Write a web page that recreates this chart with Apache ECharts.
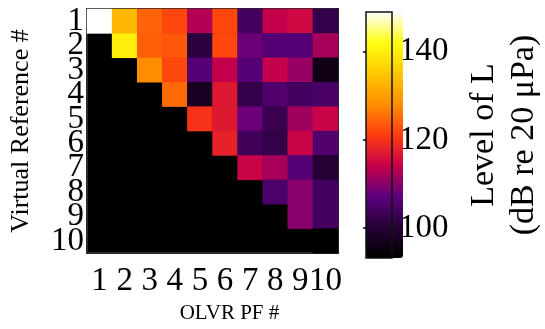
<!DOCTYPE html>
<html>
<head>
<meta charset="utf-8">
<script src="https://cdn.jsdelivr.net/npm/echarts@6/dist/echarts.min.js"></script>
<style>
html,body{margin:0;padding:0;background:#fff;}
#chart{width:545px;height:329px;}
</style>
</head>
<body>
<div id="chart"></div>
<script>
// Categories (tick labels)
var pfLabels = ['1','2','3','4','5','6','7','8','9','10'];
var refLabels = ['1','2','3','4','5','6','7','8','9','10'];
// Level of L (dB re 20 µPa), one array per Virtual Reference row; null = not shown (black)
var row1  = [149, 133, 124.5, 122, 113, 122, 104, 114, 115, 102];
var row2  = [null, 140, 124, 123.5, 101, 122, 108, 106, 106, 112];
var row3  = [null, null, 128, 122, 106, 114, 106, 114, 111, 96];
var row4  = [null, null, null, 125, 97.5, 117, 102, 105.5, 104, 104.5];
var row5  = [null, null, null, null, 120, 117, 108, 102.5, 111.5, 114.5];
var row6  = [null, null, null, null, null, 118, 103.5, 102, 114.5, 105.5];
var row7  = [null, null, null, null, null, null, 114.5, 112, 106, 100];
var row8  = [null, null, null, null, null, null, null, 105, 110, 104];
var row9  = [null, null, null, null, null, null, null, null, 110, 104];
var row10 = [null, null, null, null, null, null, null, null, null, 93.2];
var rows = [row1,row2,row3,row4,row5,row6,row7,row8,row9,row10];
// Colour scale
var cMin = 93.2, cMax = 149;
var cTicks = [100, 120, 140];
var cColors = ['#000000','#250035','#5e0080','#c6004a','#ff3c10','#ff8e00','#ffc800','#ffff10','#ffffff'];

var data = [];
rows.forEach(function(r, i){
  r.forEach(function(v, j){
    data.push([j, i, v == null ? '-' : v]);
  });
});

var serif = 'Liberation Serif, Times New Roman, serif';
var chart = echarts.init(document.getElementById('chart'));
chart.setOption({
  animation: false,
  backgroundColor: '#fff',
  grid: [
    {left: 87, top: 9, width: 251, height: 251, show: true, backgroundColor: '#000', borderColor: '#2a2a2a', borderWidth: 2},
    {left: 366, top: 12, width: 37, height: 246, show: true, backgroundColor: 'transparent', borderColor: '#111', borderWidth: 1.5, z: 10}
  ],
  xAxis: [
    {type: 'category', gridIndex: 0, data: pfLabels, position: 'bottom',
     name: 'OLVR PF #', nameLocation: 'middle', nameGap: 47,
     nameTextStyle: {fontFamily: serif, fontSize: 21, color: '#000', padding: [0,0,0,34]},
     axisLine: {show: false}, axisTick: {show: false},
     axisLabel: {fontFamily: serif, fontSize: 33, color: '#000', margin: 12, interval: 0},
     splitLine: {show: false}},
    {type: 'category', gridIndex: 0, data: pfLabels, position: 'top',
     axisLine: {show: false}, axisLabel: {show: false},
     axisTick: {show: true, inside: true, length: 3, alignWithLabel: true, lineStyle: {color: '#000', width: 2}}},
    {type: 'value', gridIndex: 1, show: false, min: 0, max: 1}
  ],
  yAxis: [
    {type: 'category', gridIndex: 0, data: refLabels, inverse: true, position: 'left',
     name: 'Virtual Reference #', nameLocation: 'middle', nameGap: 53,
     nameTextStyle: {fontFamily: serif, fontSize: 26, color: '#000'},
     axisLine: {show: false}, axisTick: {show: false},
     axisLabel: {fontFamily: serif, fontSize: 33, color: '#000', margin: 3, interval: 0},
     splitLine: {show: false}},
    {type: 'category', gridIndex: 0, data: refLabels, inverse: true, position: 'right',
     axisLine: {show: false}, axisLabel: {show: false},
     axisTick: {show: true, inside: true, length: 3, alignWithLabel: true, lineStyle: {color: '#000', width: 2}}},
    {type: 'value', gridIndex: 1, position: 'right', min: cMin, max: cMax,
     name: 'Level of L\n(dB re 20 μPa)', nameLocation: 'middle', nameRotate: 90, nameGap: 72,
     nameTextStyle: {fontFamily: serif, fontSize: 34, color: '#000', lineHeight: 40, align: 'center'},
     axisLine: {show: false}, splitLine: {show: false},
     axisTick: {show: true, inside: true, length: 3, customValues: cTicks, lineStyle: {color: '#000', width: 1.5}},
     axisLabel: {fontFamily: serif, fontSize: 33, color: '#000', margin: 7, customValues: cTicks}},
    {type: 'value', gridIndex: 1, position: 'left', min: cMin, max: cMax,
     axisLine: {show: false}, splitLine: {show: false}, axisLabel: {show: false},
     axisTick: {show: true, inside: true, length: 3, customValues: cTicks, lineStyle: {color: '#000', width: 1.5}}}
  ],
  visualMap: {
    type: 'continuous', min: cMin, max: cMax, seriesIndex: 0,
    orient: 'vertical', left: 366, top: 12, itemWidth: 37, itemHeight: 246,
    padding: 0, calculable: false, text: null, showLabel: false,
    inRange: {color: cColors}
  },
  series: [{
    type: 'heatmap', xAxisIndex: 0, yAxisIndex: 0, data: data,
    itemStyle: {borderWidth: 0}, emphasis: {disabled: true}
  }]
});
</script>
</body>
</html>
